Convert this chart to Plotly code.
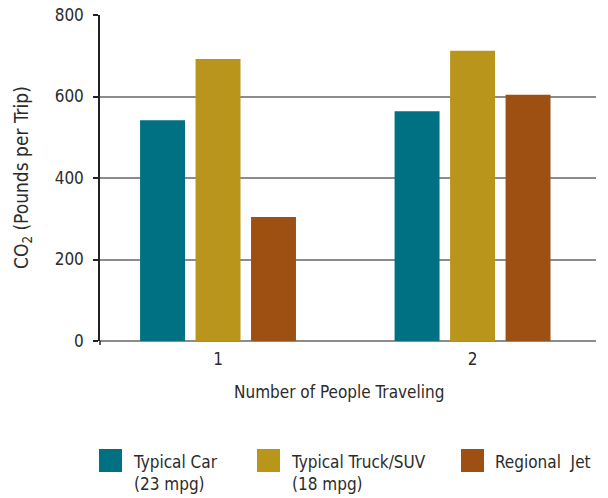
import plotly.graph_objects as go

# CO2 per trip by number of travelers
people = [1, 2]
series = ['Typical Car', 'Typical Truck/SUV', 'Regional Jet']
legend_labels = ['Typical Car<br>(23 mpg)', 'Typical Truck/SUV<br>(18 mpg)', 'Regional  Jet']
car = [542, 564]
truck = [692, 712]
jet = [304, 604]
colors = ['#007183', '#B9961B', '#9E5012']

FONT = 'Liberation Sans Narrow, DejaVu Sans Condensed, Roboto, sans-serif'
TXT = '#2b2b2b'

fig = go.Figure()
for name, vals, col in zip(series, [car, truck, jet], colors):
    fig.add_trace(go.Bar(x=people, y=vals, name=name, marker_color=col,
                         marker_line_width=0, showlegend=False))

# legend drawn by hand: big square swatches with two-line labels
# (positions relative to plot area: left edge 100px, bottom 341px, size 496x326)
leg_x = [99, 257, 461]
shapes = []
annotations = []
for lx, lab, col in zip(leg_x, legend_labels, colors):
    shapes.append(dict(type='rect', xref='paper', yref='paper',
                       x0=(lx - 100) / 496, x1=(lx + 23 - 100) / 496,
                       y0=(341 - 472) / 326, y1=(341 - 449) / 326,
                       fillcolor=col, line_width=0))
    annotations.append(dict(text=lab, xref='paper', yref='paper',
                            x=(lx + 32 - 100) / 496, y=(341 - 450) / 326,
                            xanchor='left', yanchor='top', align='left',
                            showarrow=False, font=dict(size=17, color=TXT)))

annotations.append(dict(text='Number of People Traveling', xref='paper', yref='paper',
                        x=(339 - 100) / 496, y=(341 - 392) / 326,
                        xanchor='center', yanchor='middle', showarrow=False,
                        font=dict(size=17, color=TXT)))
annotations.append(dict(text='CO<sub>2</sub> (Pounds per Trip)', xref='paper', yref='paper',
                        x=(22 - 100) / 496, y=0.5, textangle=-90,
                        xanchor='center', yanchor='middle', showarrow=False,
                        font=dict(size=19, color=TXT)))

# y axis line runs a few px below the baseline in the original
shapes.append(dict(type='line', xref='paper', yref='paper', x0=0, x1=0,
                   y0=-4 / 326, y1=0, line=dict(color='#222', width=1.5)))

fig.update_layout(
    width=608, height=498,
    margin=dict(l=100, r=12, t=15, b=157),
    paper_bgcolor='white', plot_bgcolor='white',
    font=dict(family=FONT, size=17, color=TXT),
    barmode='group', bargap=0.346, bargroupgap=0.19,
    shapes=shapes, annotations=annotations,
    xaxis=dict(range=[0.5363, 2.485], tickvals=people, ticktext=[str(p) for p in people],
               showgrid=False, zeroline=False, showline=False, ticks='',
               automargin=False, ticklabelstandoff=6, tickfont=dict(size=17)),
    yaxis=dict(range=[0, 800], tickvals=[0, 200, 400, 600, 800],
               showgrid=True, gridcolor='#8c8c8c', gridwidth=1.5,
               zeroline=True, zerolinecolor='#8c8c8c', zerolinewidth=1.5,
               showline=True, linecolor='#222', linewidth=1.5,
               ticks='outside', ticklen=5, tickcolor='#222', tickwidth=1.5,
               automargin=False, ticklabelstandoff=6, tickfont=dict(size=17)),
)

# drop the browser's default 8px body margin so the figure sits at the page corner
fig.write_html('out.html', config={'displayModeBar': False},
               post_script="document.body.style.margin='0';")
